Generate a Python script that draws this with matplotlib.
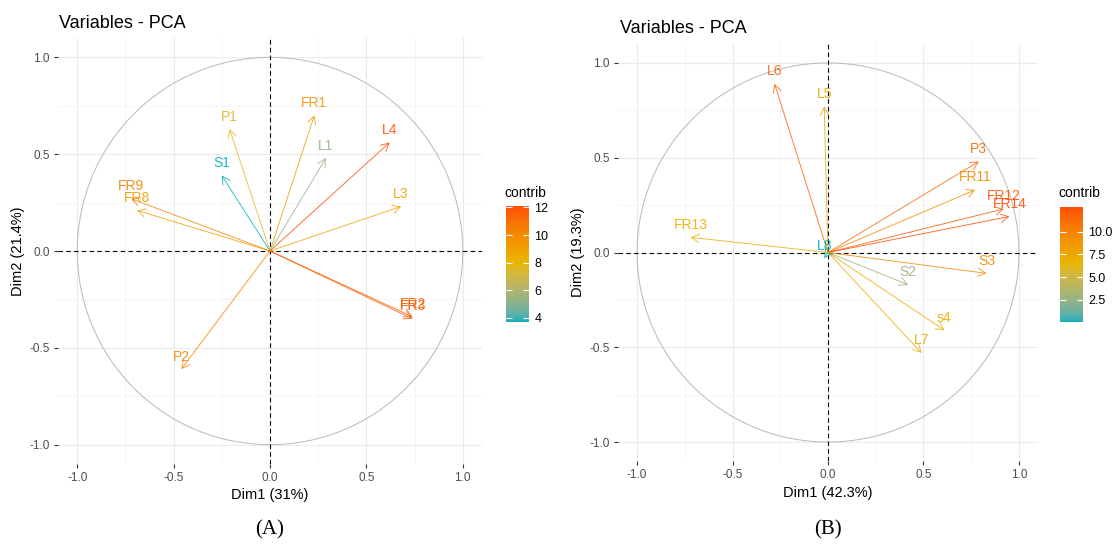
import matplotlib
matplotlib.use("Agg")
import numpy as np
import matplotlib.pyplot as plt
from matplotlib.colors import ListedColormap, Normalize, to_rgb
from matplotlib.cm import ScalarMappable
from matplotlib.patches import Circle
from matplotlib.ticker import FormatStrFormatter

plt.rcParams["font.family"] = ["Liberation Sans", "DejaVu Sans"]
plt.rcParams["axes.unicode_minus"] = False

# Panel A data
vars_a = ["P1", "FR1", "L1", "L4", "S1", "FR9", "FR8", "L3", "FR2", "FR3", "P2"]
dim1_a = [-0.21, 0.23, 0.29, 0.62, -0.25, -0.72, -0.69, 0.68, 0.74, 0.74, -0.46]
dim2_a = [0.63, 0.70, 0.48, 0.56, 0.39, 0.27, 0.21, 0.23, -0.34, -0.35, -0.61]
contrib_a = [7.6, 9.4, 5.4, 12.1, 3.7, 10.3, 9.0, 8.9, 11.5, 11.6, 10.1]

# Panel B data
vars_b = ["L6", "L5", "P3", "FR11", "FR12", "FR14", "FR13", "S3", "S2", "s4", "L7", "L8"]
dim1_b = [-0.28, -0.02, 0.79, 0.77, 0.92, 0.95, -0.72, 0.83, 0.42, 0.61, 0.49, -0.02]
dim2_b = [0.89, 0.77, 0.48, 0.33, 0.23, 0.19, 0.08, -0.11, -0.17, -0.41, -0.53, -0.03]
contrib_b = [11.8, 8.0, 11.6, 9.5, 12.2, 12.7, 7.1, 9.5, 2.8, 7.3, 7.1, 0.05]

gradient_cols = ["#00AFBB", "#E7B800", "#FC4E07"]

# ggplot ramps colours in CIELAB, so do the same here
M = np.array([[0.4124, 0.3576, 0.1805], [0.2126, 0.7152, 0.0722], [0.0193, 0.1192, 0.9505]])
WHITE = np.array([0.95047, 1.0, 1.08883])


def to_lab(c):
    rgb = np.array(to_rgb(c))
    lin = np.where(rgb <= 0.04045, rgb / 12.92, ((rgb + 0.055) / 1.055) ** 2.4)
    xyz = M @ lin / WHITE
    f = np.where(xyz > 0.008856, np.cbrt(xyz), 7.787 * xyz + 16 / 116)
    return np.array([116 * f[1] - 16, 500 * (f[0] - f[1]), 200 * (f[1] - f[2])])


def from_lab(lab):
    fy = (lab[0] + 16) / 116
    f = np.array([fy + lab[1] / 500, fy, fy - lab[2] / 200])
    xyz = np.where(f ** 3 > 0.008856, f ** 3, (f - 16 / 116) / 7.787) * WHITE
    lin = np.linalg.solve(M, xyz)
    lin = np.clip(lin, 0, 1)
    rgb = np.where(lin <= 0.0031308, 12.92 * lin, 1.055 * lin ** (1 / 2.4) - 0.055)
    return np.clip(rgb, 0, 1)


labs = [to_lab(c) for c in gradient_cols]
ramp = []
for t in np.linspace(0, 1, 256):
    seg = min(int(t * 2), 1)
    u = t * 2 - seg
    ramp.append(from_lab(labs[seg] * (1 - u) + labs[seg + 1] * u))
cmap = ListedColormap(ramp)

W, H = 1112, 546
fig = plt.figure(figsize=(W / 100, H / 100), dpi=100)


def px_rect(left, top, right, bottom):
    return [left / W, 1 - bottom / H, (right - left) / W, (bottom - top) / H]


def pca_panel(rect, names, d1, d2, contrib, xlab, ylab):
    ax = fig.add_axes(rect)
    norm = Normalize(min(contrib), max(contrib))
    ax.set_xlim(-1.1, 1.1)
    ax.set_ylim(-1.1, 1.1)
    ticks = [-1.0, -0.5, 0.0, 0.5, 1.0]
    minor = [-0.75, -0.25, 0.25, 0.75]
    ax.set_xticks(ticks)
    ax.set_yticks(ticks)
    ax.set_xticks(minor, minor=True)
    ax.set_yticks(minor, minor=True)
    ax.xaxis.set_major_formatter(FormatStrFormatter("%.1f"))
    ax.yaxis.set_major_formatter(FormatStrFormatter("%.1f"))
    ax.grid(True, which="major", color="#EBEBEB", lw=0.8)
    ax.grid(True, which="minor", color="#F2F2F2", lw=0.5)
    ax.tick_params(which="major", length=3, color="#333333", labelsize=8.5,
                   labelcolor="#4D4D4D", pad=3)
    ax.tick_params(which="minor", length=0)
    for s in ax.spines.values():
        s.set_visible(False)
    ax.set_axisbelow(True)

    ax.add_patch(Circle((0, 0), 1, fill=False, edgecolor="#B8B8B8", lw=0.7))
    ax.axhline(0, color="black", ls=(0, (4, 3)), lw=0.8)
    ax.axvline(0, color="black", ls=(0, (4, 3)), lw=0.8)

    for name, x, y, c in zip(names, d1, d2, contrib):
        col = cmap(norm(c))
        ax.annotate("", xy=(x, y), xytext=(0, 0),
                    arrowprops=dict(arrowstyle="->,head_length=0.55,head_width=0.3",
                                    color=col, lw=0.65, alpha=0.85, shrinkA=0,
                                    shrinkB=0, mutation_scale=10))
        ax.annotate(name, xy=(x, y), xytext=(0, 9), textcoords="offset points",
                    ha="center", va="center", color=col, alpha=0.9, fontsize=10)

    ax.set_xlabel(xlab, fontsize=10.5, labelpad=3)
    ax.set_ylabel(ylab, fontsize=10.5, labelpad=3)
    return ax, norm


def contrib_bar(rect, norm, ticks, fmt, title_xy):
    cax = fig.add_axes(rect)
    cb = fig.colorbar(ScalarMappable(norm=norm, cmap=cmap), cax=cax)
    cb.outline.set_visible(False)
    cb.set_ticks(ticks)
    cb.set_ticklabels([fmt % t for t in ticks])
    cax.tick_params(left=True, right=True, direction="in", color="white",
                    length=4, width=0.8, labelsize=9, pad=4)
    fig.text(title_xy[0] / W, 1 - title_xy[1] / H, "contrib", fontsize=10,
             ha="left", va="baseline")


# Panel A
ax_a, norm_a = pca_panel(px_rect(58, 38, 482, 464), vars_a, dim1_a, dim2_a,
                         contrib_a, "Dim1 (31%)", "Dim2 (21.4%)")
fig.text(59 / W, 1 - 28 / H, "Variables - PCA", fontsize=13, ha="left", va="baseline")
contrib_bar(px_rect(506, 206, 529, 322), norm_a, [4, 6, 8, 10, 12], "%d", (504, 197))
fig.text(270 / W, 1 - 530 / H, "(A)", family="Liberation Serif", fontsize=15,
         ha="center", va="center")

# Panel B
ax_b, norm_b = pca_panel(px_rect(618, 44, 1038, 461), vars_b, dim1_b, dim2_b,
                         contrib_b, "Dim1 (42.3%)", "Dim2 (19.3%)")
fig.text(620 / W, 1 - 33 / H, "Variables - PCA", fontsize=13, ha="left", va="baseline")
contrib_bar(px_rect(1060, 207, 1083, 322), norm_b, [2.5, 5.0, 7.5, 10.0], "%.1f", (1058, 197))
fig.text(828 / W, 1 - 530 / H, "(B)", family="Liberation Serif", fontsize=15,
         ha="center", va="center")

fig.savefig("out.png", dpi=100, facecolor="white")
